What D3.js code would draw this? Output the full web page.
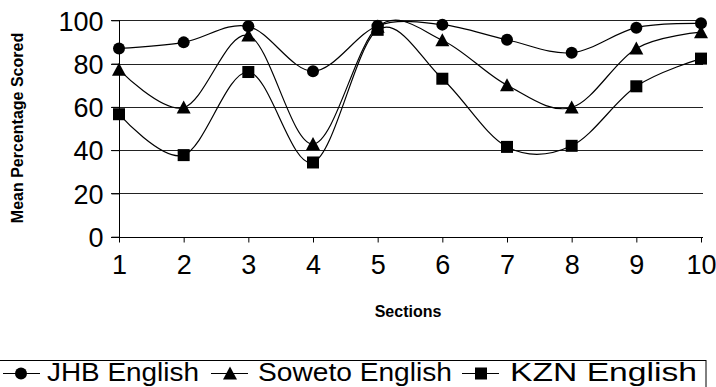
<!DOCTYPE html>
<html>
<head>
<meta charset="utf-8">
<script src="https://cdn.jsdelivr.net/npm/d3@7"></script>
<style>
  html, body { margin: 0; padding: 0; background: #fff; }
  svg { display: block; }
  text { font-family: Arial, "Liberation Sans", sans-serif; fill: #000; }
</style>
</head>
<body>
<svg id="chart" width="716" height="387"></svg>
<script>
// Mean percentage scored per section
const sections = [1, 2, 3, 4, 5, 6, 7, 8, 9, 10];
const jhbEnglish    = [87, 89.8, 97.2, 76.5, 97.5, 98, 91, 85, 96.6, 98.6];
const sowetoEnglish = [77.2, 59.7, 93, 42.8, 97, 90.8, 70, 59.7, 87, 94.5];
const kznEnglish    = [56.6, 37.7, 76.1, 34.3, 95.6, 73, 41.5, 42, 69.5, 82.3];
const yTicks = [0, 20, 40, 60, 80, 100];
const seriesNames = ["JHB English", "Soweto English", "KZN English"];
const seriesSymbols = ["circle", "triangle", "square"];

const svg = d3.select("#chart");

const x = d3.scaleLinear().domain([1, 10]).range([119, 701]);
const y = d3.scaleLinear().domain([0, 100]).range([236.7, 20.3]);

// gridlines (they also serve as the y tick marks)
svg.append("g")
  .selectAll("line")
  .data(yTicks.filter(d => d > 0))
  .join("line")
  .attr("x1", 111).attr("x2", 703)
  .attr("y1", d => Math.round(y(d)) + 0.5)
  .attr("y2", d => Math.round(y(d)) + 0.5)
  .attr("stroke", "#222").attr("stroke-width", 1);

// y axis
const yAxis = svg.append("g")
  .attr("transform", "translate(119.5,0)")
  .call(d3.axisLeft(y).tickValues(yTicks).tickSize(8).tickPadding(8));
yAxis.select(".domain").attr("d", `M0,${y(100)}V${y(0) + 5}`).attr("stroke", "#000");
yAxis.selectAll(".tick line").attr("stroke", "#000");
yAxis.selectAll(".tick text")
  .attr("font-size", 27).attr("font-family", "Arial, 'Liberation Sans', sans-serif")
  .attr("dy", "0.36em").attr("fill", "#000");

// x axis
const xAxis = svg.append("g")
  .attr("transform", `translate(0,${Math.round(y(0)) + 0.5})`)
  .call(d3.axisBottom(x).tickValues(sections).tickSize(5).tickPadding(12).tickFormat(d3.format("d")));
xAxis.select(".domain").attr("d", "M111,0H703").attr("stroke", "#000");
xAxis.selectAll(".tick line").attr("stroke", "#000");
xAxis.selectAll(".tick text")
  .attr("font-size", 27).attr("font-family", "Arial, 'Liberation Sans', sans-serif")
  .attr("fill", "#000");

// axis titles
svg.append("text")
  .attr("x", 408).attr("y", 317)
  .attr("text-anchor", "middle")
  .attr("font-size", 16).attr("font-weight", "bold")
  .text("Sections");

svg.append("text")
  .attr("transform", "translate(23,128) rotate(-90)")
  .attr("text-anchor", "middle")
  .attr("font-size", 16).attr("font-weight", "bold")
  .text("Mean Percentage Scored");

// smoothed series lines
const line = d3.line()
  .x((d, i) => x(sections[i]))
  .y(d => y(d))
  .curve(d3.curveCatmullRom.alpha(0));

const allSeries = [jhbEnglish, sowetoEnglish, kznEnglish];

function drawSymbol(g, kind, cx, cy) {
  if (kind === "circle") {
    g.append("circle").attr("cx", cx).attr("cy", cy).attr("r", 6).attr("fill", "#000");
  } else if (kind === "triangle") {
    g.append("path")
      .attr("d", `M${cx},${cy - 7}L${cx + 7},${cy + 6}L${cx - 7},${cy + 6}Z`)
      .attr("fill", "#000");
  } else {
    g.append("rect").attr("x", cx - 6).attr("y", cy - 6)
      .attr("width", 12).attr("height", 12).attr("fill", "#000");
  }
}

allSeries.forEach((vals, s) => {
  svg.append("path")
    .datum(vals)
    .attr("d", line)
    .attr("fill", "none")
    .attr("stroke", "#000")
    .attr("stroke-width", 1.2);
});

allSeries.forEach((vals, s) => {
  const g = svg.append("g");
  vals.forEach((v, i) => drawSymbol(g, seriesSymbols[s], x(sections[i]), y(v)));
});

// legend
const legend = svg.append("g");
legend.append("rect")
  .attr("x", -2).attr("y", 360.5).attr("width", 708).attr("height", 40)
  .attr("fill", "none").attr("stroke", "#000").attr("stroke-width", 1);

const legendItems = [
  { lx: 3, mx: 21, tx: 47 },
  { lx: 211, mx: 230, tx: 258 },
  { lx: 462, mx: 481, tx: 510 }
];
legendItems.forEach((it, s) => {
  const g = legend.append("g");
  g.append("line")
    .attr("x1", it.lx).attr("x2", it.lx + 37)
    .attr("y1", 373.5).attr("y2", 373.5)
    .attr("stroke", "#000").attr("stroke-width", 1.2);
  drawSymbol(g, seriesSymbols[s], it.mx, 373.5);
  g.append("text")
    .attr("x", it.tx).attr("y", 381)
    .attr("font-size", 26)
    .attr("textLength", s === 0 ? 152 : (s === 1 ? 194 : 187))
    .attr("lengthAdjust", "spacingAndGlyphs")
    .text(seriesNames[s]);
});
</script>
</body>
</html>
